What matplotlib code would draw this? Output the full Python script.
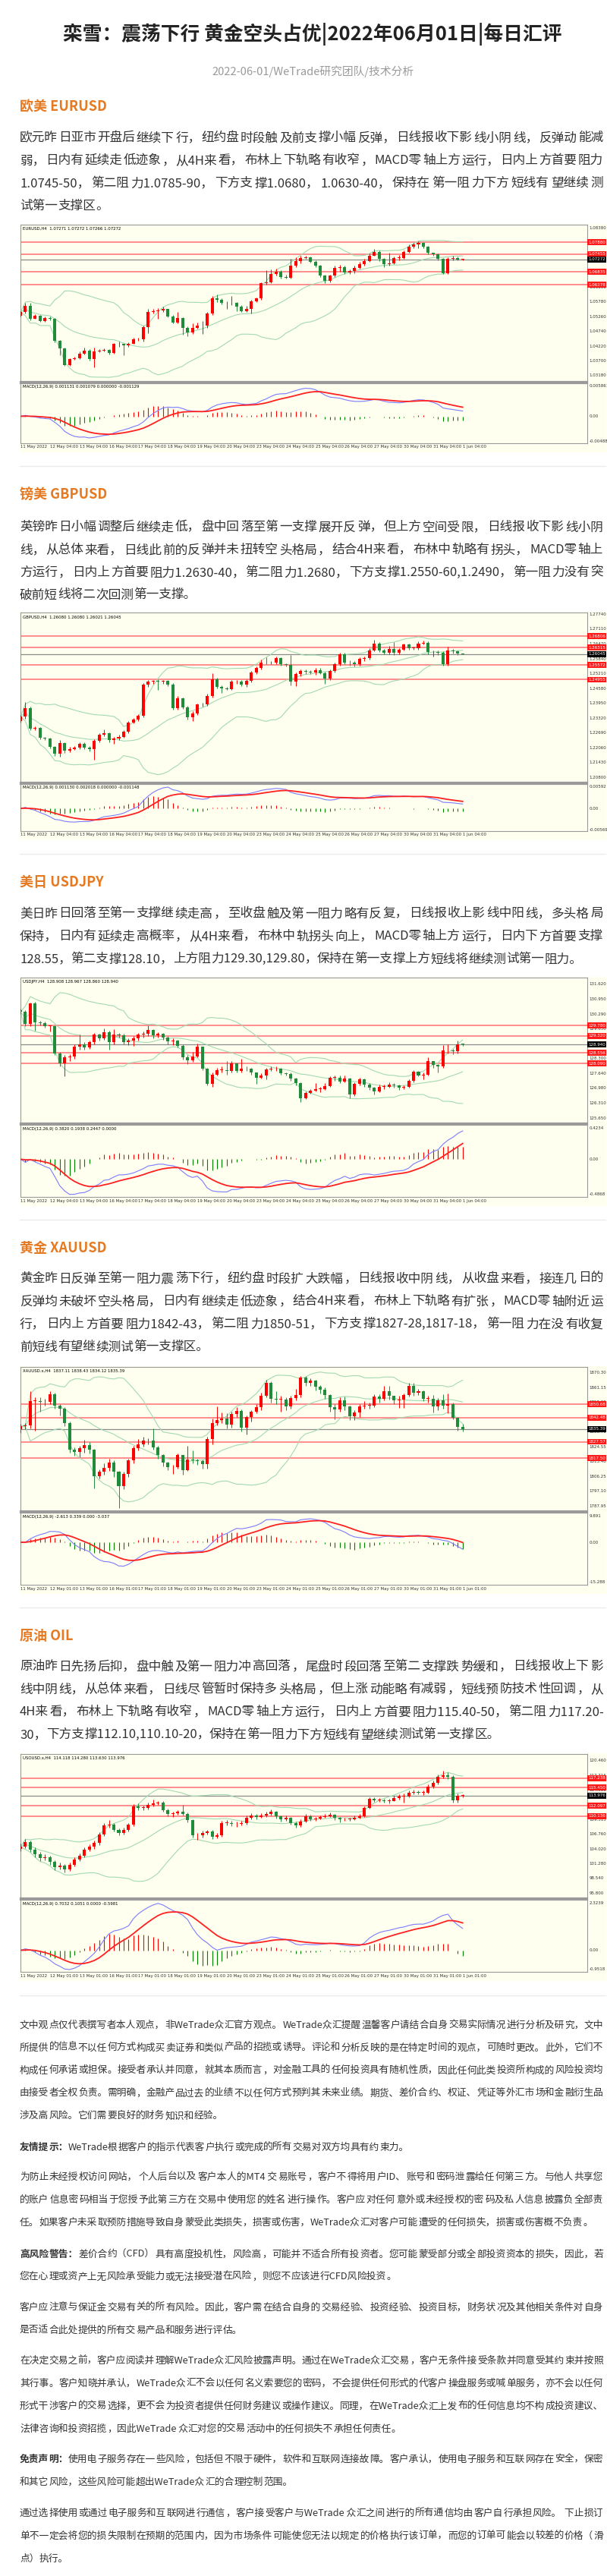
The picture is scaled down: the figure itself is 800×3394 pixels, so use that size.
import numpy as np
import pandas as pd
import matplotlib
matplotlib.use("Agg")
import matplotlib.pyplot as plt
from matplotlib import font_manager
from matplotlib.ft2font import FT2Font
from matplotlib.patches import Rectangle
from matplotlib.lines import Line2D

plt.rcParams['font.family'] = ['Noto Sans CJK SC', 'DejaVu Sans']

W, H = 800, 3394
TXT = '#333333'
ORANGE = '#E67A22'
IVORY = '#FFFFF0'
UP, DN = '#FF0000', '#1F8B3B'
BAND = '#A3D9B1'
LEVEL = '#FF8585'

# ---------------- text ----------------
title = "栾雪：震荡下行 黄金空头占优|2022年06月01日|每日汇评"
subtitle = "2022-06-01/WeTrade研究团队/技术分析"

eur_text = [
    "欧元昨日亚市开盘后继续下行，纽约盘时段触及前支撑小幅反弹，日线报收下影线小阴线，反弹动能减",
    "弱，日内有延续走低迹象，从4H来看，布林上下轨略有收窄，MACD零轴上方运行，日内上方首要阻力",
    "1.0745-50，第二阻力1.0785-90，下方支撑1.0680，1.0630-40，保持在第一阻力下方短线有望继续测",
    "试第一支撑区。",
]
gbp_text = [
    "英镑昨日小幅调整后继续走低，盘中回落至第一支撑展开反弹，但上方空间受限，日线报收下影线小阴",
    "线，从总体来看，日线此前的反弹并未扭转空头格局，结合4H来看，布林中轨略有拐头，MACD零轴上",
    "方运行，日内上方首要阻力1.2630-40，第二阻力1.2680，下方支撑1.2550-60,1.2490，第一阻力没有突",
    "破前短线将二次回测第一支撑。",
]
jpy_text = [
    "美日昨日回落至第一支撑继续走高，至收盘触及第一阻力略有反复，日线报收上影线中阳线，多头格局",
    "保持，日内有延续走高概率，从4H来看，布林中轨拐头向上，MACD零轴上方运行，日内下方首要支撑",
    "128.55，第二支撑128.10，上方阻力129.30,129.80，保持在第一支撑上方短线将继续测试第一阻力。",
]
xau_text = [
    "黄金昨日反弹至第一阻力震荡下行，纽约盘时段扩大跌幅，日线报收中阴线，从收盘来看，接连几日的",
    "反弹均未破坏空头格局，日内有继续走低迹象，结合4H来看，布林上下轨略有扩张，MACD零轴附近运",
    "行，日内上方首要阻力1842-43，第二阻力1850-51，下方支撑1827-28,1817-18，第一阻力在没有收复",
    "前短线有望继续测试第一支撑区。",
]
oil_text = [
    "原油昨日先扬后抑，盘中触及第一阻力冲高回落，尾盘时段回落至第二支撑跌势缓和，日线报收上下影",
    "线中阴线，从总体来看，日线尽管暂时保持多头格局，但上涨动能略有减弱，短线预防技术性回调，从",
    "4H来看，布林上下轨略有收窄，MACD零轴上方运行，日内上方首要阻力115.40-50，第二阻力117.20-",
    "30，下方支撑112.10,110.10-20，保持在第一阻力下方短线有望继续测试第一支撑区。",
]

disc_paras = [
    ("", ["文中观点仅代表撰写者本人观点，非WeTrade众汇官方观点。WeTrade众汇提醒温馨客户请结合自身交易实际情况进行分析及研究，文中",
          "所提供的信息不以任何方式构成买卖证券和类似产品的招揽或诱导。评论和分析反映的是在特定时间的观点，可随时更改。此外，它们不",
          "构成任何承诺或担保。接受者承认并同意，就其本质而言，对金融工具的任何投资具有随机性质，因此任何此类投资所构成的风险投资均",
          "由接受者全权负责。需明确，金融产品过去的业绩不以任何方式预判其未来业绩。期货、差价合约、权证、凭证等外汇市场和金融衍生品",
          "涉及高风险。它们需要良好的财务知识和经验。"]),
    ("友情提示：", ["WeTrade根据客户的指示代表客户执行或完成的所有交易对双方均具有约束力。"]),
    ("", ["为防止未经授权访问网站，个人后台以及客户本人的MT4 交易账号，客户不得将用户ID、账号和密码泄露给任何第三方。与他人共享您",
          "的账户信息密码相当于您授予此第三方在交易中使用您的姓名进行操作。客户应对任何意外或未经授权的密码及私人信息披露负全部责",
          "任。如果客户未采取预防措施导致自身蒙受此类损失，损害或伤害，WeTrade众汇对客户可能遭受的任何损失，损害或伤害概不负责。"]),
    ("高风险警告：", ["差价合约（CFD）具有高度投机性，风险高，可能并不适合所有投资者。您可能蒙受部分或全部投资资本的损失，因此，若",
                 "您在心理或资产上无风险承受能力或无法接受潜在风险，则您不应该进行CFD风险投资。"]),
    ("", ["客户应注意与保证金交易有关的所有风险。因此，客户需在结合自身的交易经验、投资经验、投资目标，财务状况及其他相关条件对自身",
          "是否适合此处提供的所有交易产品和服务进行评估。"]),
    ("", ["在决定交易之前，客户应阅读并理解WeTrade众汇风险披露声明。通过在WeTrade众汇交易，客户无条件接受条款并同意受其约束并按照",
          "其行事。客户知晓并承认，WeTrade众汇不会以任何名义索要您的密码，不会提供任何形式的代客户操盘服务或喊单服务，亦不会以任何",
          "形式干涉客户的交易选择，更不会为投资者提供任何财务建议或操作建议。同理，在WeTrade众汇上发布的任何信息均不构成投资建议、",
          "法律咨询和投资招揽，因此WeTrade 众汇对您的交易活动中的任何损失不承担任何责任。"]),
    ("免责声明：", ["使用电子服务存在一些风险，包括但不限于硬件，软件和互联网连接故障。客户承认，使用电子服务和互联网存在安全，保密",
               "和其它风险，这些风险可能超出WeTrade众汇的合理控制范围。"]),
    ("", ["通过选择使用或通过电子服务和互联网进行通信，客户接受客户与WeTrade 众汇之间进行的所有通信均由客户自行承担风险。 下止损订",
          "单不一定会将您的损失限制在预期的范围内，因为市场条件可能使您无法以规定的价格执行该订单，而您的订单可能会以较差的价格（滑",
          "点）执行。"]),
]
disc_y = [[2667, 2696.5, 2726.5, 2756.5, 2786.5], [2828], [2867, 2897, 2927], [2969, 2998.5],
          [3039, 3069], [3109, 3139, 3169, 3199], [3239, 3269], [3310, 3340, 3370]]

dates_04 = ["11 May 2022", "12 May 04:00", "13 May 04:00", "16 May 04:00", "17 May 04:00", "18 May 04:00",
            "19 May 04:00", "20 May 04:00", "23 May 04:00", "24 May 04:00", "25 May 04:00", "26 May 04:00",
            "27 May 04:00", "30 May 04:00", "31 May 04:00", "1 Jun 04:00"]
dates_01 = [d.replace("04:00", "01:00") for d in dates_04]

# ---------------- EURUSD H4 ----------------
eur_open0 = 1.0529
eur_close = [1.0541, 1.0565, 1.0518, 1.0529, 1.0511, 1.0520, 1.0518, 1.0440, 1.0413, 1.0356,
             1.0378, 1.0380, 1.0395, 1.0407, 1.0376, 1.0403, 1.0407, 1.0408, 1.0398, 1.0429,
             1.0431, 1.0424, 1.0431, 1.0445, 1.0445, 1.0489, 1.0541, 1.0545, 1.0548, 1.0552,
             1.0527, 1.0505, 1.0520, 1.0485, 1.0469, 1.0487, 1.0493, 1.0494, 1.0536, 1.0591,
             1.0584, 1.0574, 1.0574, 1.0574, 1.0561, 1.0545, 1.0554, 1.0581, 1.0590, 1.0645,
             1.0647, 1.0676, 1.0683, 1.0665, 1.0663, 1.0704, 1.0721, 1.0732, 1.0734, 1.0719,
             1.0704, 1.0670, 1.0652, 1.0670, 1.0698, 1.0701, 1.0680, 1.0686, 1.0696, 1.0710,
             1.0721, 1.0741, 1.0754, 1.0728, 1.0710, 1.0714, 1.0732, 1.0732, 1.0754, 1.0772,
             1.0781, 1.0785, 1.0772, 1.0750, 1.0745, 1.0728, 1.0679, 1.0728, 1.0732, 1.0727,
             1.0727]
eur_high = [1.0545, 1.0574, 1.0574, 1.0534, 1.0532, 1.0525, 1.0525, 1.0520, 1.0443, 1.0416,
            1.0380, 1.0385, 1.0403, 1.0418, 1.0412, 1.0416, 1.0412, 1.0413, 1.0412, 1.0434,
            1.0438, 1.0431, 1.0436, 1.0452, 1.0452, 1.0493, 1.0554, 1.0552, 1.0556, 1.0561,
            1.0554, 1.0532, 1.0543, 1.0523, 1.0492, 1.0501, 1.0505, 1.0510, 1.0541, 1.0599,
            1.0603, 1.0590, 1.0581, 1.0599, 1.0576, 1.0567, 1.0563, 1.0585, 1.0594, 1.0647,
            1.0688, 1.0692, 1.0695, 1.0688, 1.0674, 1.0728, 1.0734, 1.0739, 1.0741, 1.0736,
            1.0723, 1.0707, 1.0674, 1.0674, 1.0705, 1.0707, 1.0705, 1.0692, 1.0705, 1.0719,
            1.0728, 1.0748, 1.0763, 1.0759, 1.0732, 1.0750, 1.0736, 1.0743, 1.0760, 1.0781,
            1.0785, 1.0790, 1.0787, 1.0776, 1.0752, 1.0748, 1.0732, 1.0734, 1.0741, 1.0736,
            1.0728]
eur_low = [1.0527, 1.0538, 1.0514, 1.0517, 1.0508, 1.0508, 1.0514, 1.0436, 1.0389, 1.0354,
           1.0354, 1.0374, 1.0376, 1.0392, 1.0371, 1.0347, 1.0401, 1.0403, 1.0394, 1.0395,
           1.0420, 1.0389, 1.0420, 1.0429, 1.0440, 1.0438, 1.0467, 1.0536, 1.0518, 1.0543,
           1.0523, 1.0501, 1.0501, 1.0461, 1.0458, 1.0466, 1.0483, 1.0466, 1.0487, 1.0532,
           1.0576, 1.0570, 1.0554, 1.0567, 1.0545, 1.0541, 1.0541, 1.0536, 1.0576, 1.0585,
           1.0638, 1.0643, 1.0670, 1.0661, 1.0659, 1.0661, 1.0701, 1.0714, 1.0728, 1.0716,
           1.0701, 1.0665, 1.0643, 1.0647, 1.0665, 1.0683, 1.0677, 1.0677, 1.0679, 1.0695,
           1.0705, 1.0719, 1.0739, 1.0721, 1.0701, 1.0705, 1.0710, 1.0723, 1.0730, 1.0752,
           1.0766, 1.0768, 1.0768, 1.0745, 1.0739, 1.0725, 1.0677, 1.0677, 1.0723, 1.0725,
           1.0725]
eur_ticks = [1.03180, 1.03700, 1.04220, 1.04740, 1.05260, 1.05780, 1.06300, 1.06820, 1.07340, 1.07860, 1.08380]
eur_levels = [1.07880, 1.07455, 1.06835, 1.06378]

# ---------------- GBPUSD H4 ----------------
gbp_open0 = 1.2319
gbp_close = [1.2337, 1.2373, 1.2287, 1.2289, 1.2247, 1.2244, 1.2209, 1.2179, 1.2225, 1.2192,
             1.2201, 1.2206, 1.2222, 1.2206, 1.2201, 1.2235, 1.2260, 1.2267, 1.2238, 1.2244,
             1.2252, 1.2273, 1.2314, 1.2324, 1.2341, 1.2475, 1.2486, 1.2489, 1.2486, 1.2489,
             1.2475, 1.2373, 1.2416, 1.2378, 1.2335, 1.2351, 1.2389, 1.2389, 1.2427, 1.2497,
             1.2464, 1.2459, 1.2456, 1.2486, 1.2486, 1.2475, 1.2491, 1.2526, 1.2545, 1.2569,
             1.2567, 1.2567, 1.2586, 1.2561, 1.2559, 1.2486, 1.2518, 1.2532, 1.2529, 1.2526,
             1.2537, 1.2524, 1.2500, 1.2532, 1.2561, 1.2604, 1.2569, 1.2567, 1.2561, 1.2583,
             1.2586, 1.2621, 1.2650, 1.2621, 1.2610, 1.2626, 1.2610, 1.2623, 1.2644, 1.2629,
             1.2629, 1.2650, 1.2653, 1.2612, 1.2612, 1.2610, 1.2561, 1.2618, 1.2615, 1.2607,
             1.2605]
gbp_high = [1.2345, 1.2400, 1.2380, 1.2295, 1.2292, 1.2252, 1.2248, 1.2212, 1.2238, 1.2230,
            1.2208, 1.2212, 1.2230, 1.2228, 1.2212, 1.2240, 1.2268, 1.2285, 1.2272, 1.2250,
            1.2262, 1.2280, 1.2320, 1.2332, 1.2348, 1.2482, 1.2495, 1.2495, 1.2497, 1.2495,
            1.2495, 1.2480, 1.2425, 1.2420, 1.2383, 1.2360, 1.2395, 1.2396, 1.2435, 1.2524,
            1.2503, 1.2470, 1.2466, 1.2492, 1.2493, 1.2492, 1.2497, 1.2532, 1.2552, 1.2580,
            1.2590, 1.2575, 1.2593, 1.2592, 1.2566, 1.2599, 1.2525, 1.2540, 1.2540, 1.2535,
            1.2545, 1.2545, 1.2530, 1.2538, 1.2568, 1.2610, 1.2610, 1.2578, 1.2575, 1.2590,
            1.2595, 1.2628, 1.2666, 1.2656, 1.2627, 1.2640, 1.2655, 1.2630, 1.2650, 1.2650,
            1.2636, 1.2657, 1.2662, 1.2658, 1.2620, 1.2620, 1.2615, 1.2635, 1.2626, 1.2620,
            1.2608]
gbp_low = [1.2312, 1.2330, 1.2280, 1.2280, 1.2240, 1.2238, 1.2202, 1.2172, 1.2166, 1.2185,
           1.2186, 1.2196, 1.2200, 1.2200, 1.2190, 1.2155, 1.2230, 1.2255, 1.2230, 1.2222,
           1.2238, 1.2248, 1.2268, 1.2308, 1.2318, 1.2335, 1.2465, 1.2478, 1.2450, 1.2478,
           1.2468, 1.2366, 1.2366, 1.2372, 1.2326, 1.2318, 1.2345, 1.2382, 1.2383, 1.2420,
           1.2458, 1.2440, 1.2450, 1.2450, 1.2478, 1.2468, 1.2465, 1.2485, 1.2520, 1.2540,
           1.2560, 1.2560, 1.2560, 1.2555, 1.2552, 1.2472, 1.2468, 1.2510, 1.2520, 1.2518,
           1.2515, 1.2518, 1.2478, 1.2495, 1.2525, 1.2555, 1.2562, 1.2555, 1.2552, 1.2555,
           1.2575, 1.2580, 1.2615, 1.2614, 1.2603, 1.2605, 1.2600, 1.2604, 1.2618, 1.2622,
           1.2622, 1.2624, 1.2645, 1.2605, 1.2595, 1.2600, 1.2555, 1.2556, 1.2608, 1.2600,
           1.2602]
gbp_ticks = [1.20800, 1.21430, 1.22060, 1.22690, 1.23320, 1.23950, 1.24580, 1.25210, 1.25840, 1.26470, 1.27110, 1.27740]
gbp_levels = [1.26806, 1.26315, 1.25572, 1.24955]

# ---------------- USDJPY H4 ----------------
jpy_open0 = 130.45
jpy_close = [130.388, 129.856, 130.761, 129.935, 129.901, 129.766, 129.766, 128.545, 128.092, 128.352,
             128.409, 128.827, 128.952, 128.805, 129.031, 129.370, 129.200, 129.472, 129.031, 129.370,
             129.336, 129.031, 129.110, 129.200, 129.370, 129.427, 129.596, 129.336, 129.404, 129.257,
             129.065, 129.110, 128.884, 128.352, 128.239, 128.386, 128.827, 127.844, 127.188, 127.595,
             127.787, 127.787, 127.753, 128.092, 127.753, 127.866, 127.844, 127.674, 127.448, 127.561,
             127.821, 127.844, 127.844, 127.640, 127.617, 127.414, 127.222, 126.543, 126.769, 126.882,
             126.939, 126.939, 127.075, 127.448, 127.448, 127.278, 127.414, 126.690, 127.165, 127.369,
             127.142, 126.995, 126.826, 127.052, 127.052, 127.131, 127.108, 126.995, 127.052, 127.301,
             127.730, 127.561, 127.595, 128.183, 128.013, 127.957, 128.658, 128.658, 128.635, 128.952,
             128.940]
jpy_high = [130.55, 130.45, 130.82, 130.85, 130.00, 129.95, 129.80, 129.80, 128.60, 128.45,
            128.50, 128.95, 129.37, 129.05, 129.10, 129.45, 129.40, 129.65, 129.55, 129.62,
            129.45, 129.40, 129.20, 129.30, 129.45, 129.50, 129.79, 129.62, 129.48, 129.45,
            129.30, 129.20, 129.15, 128.95, 128.45, 128.60, 128.97, 128.85, 127.90, 127.70,
            127.90, 127.95, 128.21, 128.20, 128.10, 128.30, 127.95, 127.90, 127.70, 127.65,
            127.90, 127.95, 127.95, 127.90, 127.70, 127.68, 127.45, 127.25, 126.85, 126.95,
            127.22, 127.05, 127.20, 127.50, 127.55, 127.55, 127.56, 127.45, 127.25, 127.45,
            127.40, 127.20, 127.05, 127.15, 127.15, 127.25, 127.20, 127.15, 127.12, 127.38,
            127.80, 127.75, 127.70, 128.35, 128.20, 128.05, 128.92, 128.95, 128.75, 129.11,
            128.967]
jpy_low = [130.30, 129.77, 129.75, 129.55, 129.80, 129.70, 129.50, 128.45, 127.95, 127.53,
           128.20, 128.30, 128.70, 128.70, 128.75, 128.95, 129.10, 129.15, 128.69, 128.95,
           129.25, 128.95, 128.90, 128.86, 129.10, 129.25, 129.30, 129.20, 129.25, 129.15,
           128.95, 128.90, 128.80, 128.25, 128.07, 128.15, 128.35, 127.80, 127.10, 127.05,
           127.55, 127.70, 127.60, 127.70, 127.70, 127.70, 127.75, 127.60, 127.16, 127.40,
           127.37, 127.75, 127.75, 127.60, 127.55, 127.30, 127.10, 126.37, 126.50, 126.75,
           126.85, 126.80, 126.90, 127.05, 127.30, 127.20, 127.25, 126.54, 126.65, 127.10,
           127.05, 126.90, 126.70, 126.80, 126.95, 127.00, 127.00, 126.90, 126.95, 127.00,
           127.25, 127.50, 127.39, 127.55, 127.90, 127.67, 127.90, 128.55, 128.50, 128.55,
           128.86]
jpy_ticks = [125.650, 126.310, 126.980, 127.640, 128.300, 128.970, 129.630, 130.290, 130.950, 131.620]
jpy_levels = [129.780, 129.320, 128.556, 128.090]

# ---------------- XAUUSD H4 ----------------
xau_open0 = 1835.19
xau_close = [1837.06, 1837.69, 1852.70, 1852.70, 1852.08, 1852.08, 1856.77, 1850.04, 1848.17, 1839.10,
             1822.67, 1821.42, 1823.46, 1825.49, 1822.67, 1806.25, 1808.91, 1811.25, 1814.85, 1808.91,
             1799.99, 1807.81, 1815.95, 1823.46, 1825.80, 1828.15, 1828.15, 1823.92, 1819.23, 1814.54,
             1811.72, 1812.04, 1819.23, 1810.16, 1816.42, 1816.10, 1815.63, 1813.60, 1829.24, 1839.10,
             1841.13, 1841.76, 1838.00, 1844.88, 1846.60, 1836.44, 1842.69, 1846.13, 1848.95, 1855.83,
             1864.12, 1854.27, 1853.64, 1853.64, 1849.58, 1854.74, 1856.30, 1867.25, 1864.12, 1865.22,
             1861.46, 1859.90, 1856.30, 1848.95, 1847.70, 1853.17, 1849.26, 1843.32, 1845.67, 1849.58,
             1850.04, 1850.04, 1855.52, 1853.95, 1858.65, 1855.83, 1853.17, 1853.64, 1856.30, 1862.09,
             1857.87, 1858.96, 1854.27, 1854.27, 1849.26, 1853.17, 1850.04, 1850.83, 1842.22, 1836.75,
             1835.39]
xau_high = [1838.5, 1839.0, 1858.6, 1855.0, 1855.0, 1854.0, 1859.0, 1858.0, 1851.0, 1849.0,
            1840.0, 1824.0, 1825.0, 1828.6, 1827.5, 1823.0, 1810.5, 1814.0, 1817.0, 1816.0,
            1809.5, 1809.0, 1817.0, 1825.0, 1829.2, 1830.5, 1829.5, 1836.0, 1825.0, 1820.0,
            1815.0, 1813.5, 1820.5, 1819.5, 1825.0, 1822.0, 1817.0, 1816.5, 1830.5, 1842.0,
            1849.3, 1845.5, 1845.4, 1846.0, 1849.0, 1847.5, 1844.0, 1847.0, 1851.0, 1858.0,
            1866.0, 1865.0, 1858.6, 1856.0, 1855.0, 1856.0, 1860.0, 1868.3, 1868.0, 1867.0,
            1866.0, 1862.5, 1861.0, 1857.0, 1851.0, 1855.0, 1855.5, 1850.0, 1847.0, 1851.0,
            1852.5, 1852.0, 1857.0, 1857.0, 1862.1, 1862.0, 1856.0, 1856.0, 1857.5, 1864.1,
            1864.0, 1860.0, 1859.5, 1856.0, 1856.5, 1854.5, 1857.1, 1857.5, 1852.0, 1843.0,
            1838.43]
xau_low = [1833.0, 1835.5, 1836.0, 1834.4, 1846.0, 1850.0, 1851.0, 1848.0, 1843.8, 1837.0,
           1821.0, 1819.0, 1818.0, 1821.0, 1820.5, 1798.9, 1805.0, 1807.0, 1809.5, 1806.0,
           1786.7, 1798.4, 1806.0, 1814.0, 1822.0, 1824.5, 1826.0, 1822.5, 1817.0, 1812.5,
           1810.2, 1807.5, 1811.0, 1807.0, 1809.5, 1814.0, 1813.5, 1811.0, 1810.9, 1826.0,
           1837.5, 1839.0, 1836.0, 1836.5, 1843.0, 1834.0, 1832.0, 1840.0, 1845.0, 1847.0,
           1855.0, 1852.0, 1851.0, 1846.1, 1847.0, 1848.0, 1853.0, 1855.0, 1862.0, 1862.0,
           1859.5, 1857.5, 1854.0, 1846.0, 1841.4, 1846.0, 1847.0, 1841.0, 1841.0, 1843.0,
           1848.0, 1848.0, 1849.0, 1852.0, 1853.0, 1853.5, 1851.0, 1848.5, 1848.5, 1855.5,
           1856.0, 1856.5, 1852.5, 1852.0, 1845.8, 1847.0, 1848.0, 1845.0, 1841.4, 1834.4,
           1834.12]
xau_ticks = [1787.95, 1797.10, 1806.25, 1815.40, 1824.55, 1833.70, 1842.85, 1852.00, 1861.15, 1870.30]
xau_levels = [1850.68, 1842.48, 1827.57, 1817.50]

# ---------------- USOUSD H4 ----------------
oil_open0 = 104.0
oil_close = [104.40, 105.34, 103.93, 102.98, 102.27, 102.51, 101.56, 100.62, 100.85, 100.15,
             101.09, 102.04, 102.74, 103.93, 104.40, 105.11, 106.76, 108.41, 108.56, 107.61,
             106.99, 107.61, 108.56, 111.96, 111.72, 111.72, 112.19, 112.52, 112.66, 111.25,
             110.54, 110.63, 110.92, 110.54, 109.36, 106.52, 106.52, 106.99, 107.23, 106.29,
             106.52, 108.89, 108.89, 108.65, 108.74, 108.89, 109.83, 110.30, 109.97, 110.30,
             110.54, 110.92, 110.07, 109.50, 109.83, 108.89, 108.41, 109.12, 110.16, 109.50,
             109.69, 109.97, 110.16, 110.44, 109.83, 109.50, 109.59, 109.59, 109.83, 110.16,
             111.72, 113.37, 113.14, 113.14, 113.00, 113.00, 113.47, 113.85, 113.85, 114.55,
             114.70, 114.55, 114.55, 115.64, 116.30, 117.53, 117.72, 117.53, 113.14, 113.94,
             113.98]
oil_high = [105.0, 105.9, 105.6, 104.3, 103.4, 103.0, 102.8, 101.9, 101.4, 101.2,
            101.5, 102.5, 103.2, 104.3, 104.9, 105.6, 107.1, 108.8, 109.4, 108.9,
            107.9, 108.0, 108.9, 112.4, 112.5, 112.1, 112.6, 113.3, 113.0, 112.9,
            111.5, 111.0, 111.3, 112.3, 110.8, 109.6, 107.0, 107.4, 107.6, 107.5,
            107.0, 109.3, 109.4, 109.2, 109.1, 109.3, 110.2, 110.7, 110.5, 110.7,
            110.9, 111.4, 111.1, 110.3, 110.2, 110.0, 109.1, 109.5, 110.6, 110.4,
            110.0, 110.3, 110.5, 110.8, 110.6, 110.0, 109.9, 109.9, 110.2, 110.5,
            112.0, 113.7, 113.6, 113.5, 113.4, 113.4, 113.9, 114.2, 114.3, 114.9,
            115.1, 115.0, 114.9, 116.0, 116.8, 117.9, 118.6, 118.3, 117.8, 114.4,
            114.28]
oil_low = [103.6, 104.2, 103.5, 102.5, 101.8, 101.9, 101.1, 100.1, 100.2, 99.6,
           99.9, 100.8, 101.7, 102.5, 103.6, 104.0, 104.8, 106.5, 108.0, 107.3,
           106.6, 106.7, 107.3, 108.3, 111.2, 111.3, 111.4, 111.9, 112.2, 110.9,
           110.1, 110.0, 110.4, 110.2, 109.0, 106.1, 105.7, 106.2, 106.7, 105.8,
           106.0, 106.3, 108.4, 108.3, 108.2, 108.4, 108.6, 109.6, 109.6, 109.8,
           110.0, 110.3, 109.7, 109.1, 109.3, 108.5, 108.0, 108.2, 109.0, 109.2,
           109.3, 109.5, 109.8, 110.0, 109.4, 109.0, 109.2, 109.3, 109.4, 109.7,
           110.0, 111.5, 112.8, 112.8, 112.6, 112.5, 112.9, 113.3, 112.6, 113.6,
           114.2, 114.2, 114.1, 114.4, 115.4, 116.1, 117.2, 117.0, 112.7, 112.6,
           113.63]
oil_ticks = [95.800, 98.540, 101.280, 104.020, 106.760, 109.515, 112.240, 114.980, 117.716, 120.460]
oil_levels = [117.238, 115.450, 112.097, 110.136]

charts = [
    dict(top=296, main_h=207, macd_h=79, o0=eur_open0, c=eur_close, h=eur_high, l=eur_low,
         ylim=(1.02966, 1.08495), ticks=eur_ticks, fmt='{:.5f}', levels=eur_levels, cur=1.07272,
         head="EURUSD,H4  1.07271 1.07272 1.07266 1.07272",
         mhead="MACD(12,26,9) 0.001131 0.001079 0.000000 -0.001129",
         mlim=(0.005861, -0.004883), mlbl=("0.005861", "-0.004883"), dates=dates_04),
    dict(top=807, main_h=224, macd_h=62, o0=gbp_open0, c=gbp_close, h=gbp_high, l=gbp_low,
         ylim=(1.20574, 1.27811), ticks=gbp_ticks, fmt='{:.5f}', levels=gbp_levels, cur=1.26045,
         head="GBPUSD,H4  1.26080 1.26080 1.26021 1.26045",
         mhead="MACD(12,26,9) 0.001130 0.002018 0.000000 -0.001148",
         mlim=(0.00592, -0.005695), mlbl=("0.00592", "-0.005695"), dates=dates_04),
    dict(top=1288, main_h=192, macd_h=95, o0=jpy_open0, c=jpy_close, h=jpy_high, l=jpy_low,
         ylim=(125.413, 131.925), ticks=jpy_ticks, fmt='{:.3f}', levels=jpy_levels, cur=128.940,
         head="USDJPY,H4  128.908 128.967 128.860 128.940",
         mhead="MACD(12,26,9) 0.3820 0.1938 0.2447 0.0000",
         mlim=(0.4234, -0.4868), mlbl=("0.4234", "-0.4868"), dates=dates_04),
    dict(top=1801, main_h=190, macd_h=95, o0=xau_open0, c=xau_close, h=xau_high, l=xau_low,
         ylim=(1784.67, 1873.82), ticks=xau_ticks, fmt='{:.2f}', levels=xau_levels, cur=1835.39,
         head="XAUUSD.x,H4  1837.11 1838.43 1834.12 1835.39",
         mhead="MACD(12,26,9) -2.613 0.339 0.000 -3.037",
         mlim=(9.891, -15.288), mlbl=("9.891", "-15.288"), dates=dates_01),
    dict(top=2311, main_h=190, macd_h=95, o0=oil_open0, c=oil_close, h=oil_high, l=oil_low,
         ylim=(94.81, 121.735), ticks=oil_ticks, fmt='{:.3f}', levels=oil_levels, cur=113.976,
         head="USOUSD.x,H4  114.118 114.280 113.630 113.976",
         mhead="MACD(12,26,9) 0.7032 0.1051 0.0000 -0.5981",
         mlim=None, mlbl=None, dates=dates_01),
]

sections = [
    ("欧美 EURUSD", 139, eur_text, [180, 209.5, 239.5, 269.5]),
    ("镑美 GBPUSD", 650, gbp_text, [693, 723, 752.5, 782]),
    ("美日 USDJPY", 1161, jpy_text, [1202, 1232, 1262]),
    ("黄金 XAUUSD", 1643, xau_text, [1683, 1713, 1743, 1773]),
    ("原油 OIL", 2154, oil_text, [2194, 2224, 2254, 2284]),
]
separators = [614, 1125, 1607, 2118, 2629]

fig = plt.figure(figsize=(W / 100, H / 100), dpi=100)
fig.patch.set_facecolor('white')

# font metrics for justified lines
reg_path = font_manager.findfont(font_manager.FontProperties(family='Noto Sans CJK SC'))
bold_path = font_manager.findfont(font_manager.FontProperties(family='Noto Sans CJK SC', weight='bold'))
_ft = {}
PUNCT = '，。、；：）'


def adv_width(s, size, bold=False):
    path = bold_path if bold else reg_path
    if path not in _ft:
        _ft[path] = FT2Font(path)
    f = _ft[path]
    f.set_size(size, 100)
    return sum(f.load_char(ord(ch)).linearHoriAdvance for ch in s) / 65536


def is_cjk(ch):
    return ord(ch) > 0x2E80


def put(x, yc, s, size, color=TXT, bold=False, ha='left'):
    em = size * 100 / 72
    fig.text(x / W, 1 - (yc + 0.38 * em) / H, s, fontsize=size, color=color,
             fontweight='bold' if bold else 'normal', ha=ha, va='baseline')


def put_line(segs, yc, size, justify, x0=26.0, x1=795.0, color=TXT):
    # split into short pieces so the justification slack is spread evenly
    chunks = []
    for s, b in segs:
        buf = ''
        for i, ch in enumerate(s):
            buf += ch
            nxt = s[i + 1] if i + 1 < len(s) else ''
            if ch in PUNCT or (len(buf) >= 3 and is_cjk(ch) and (nxt == '' or is_cjk(nxt))):
                chunks.append((buf, b))
                buf = ''
        if buf:
            chunks.append((buf, b))
    ws = [adv_width(t, size, b) for t, b in chunks]
    total = sum(ws)
    if total > x1 - x0:
        return put_line(segs, yc, size * (x1 - x0) / total * 0.998, justify, x0, x1, color)
    gap = (x1 - x0 - total) / (len(chunks) - 1) if (justify and len(chunks) > 1) else 0
    x = x0
    for (t, b), w in zip(chunks, ws):
        put(x, yc, t, size, color, b)
        x += w + gap


def draw_chart(c):
    top, mh, dh = c['top'], c['main_h'], c['macd_h']
    xl, xr = 27.0, 773.6
    bot = top + mh + 2 + dh
    fig.add_artist(Rectangle((26 / W, 1 - (bot + 12) / H), 773 / W, (bot + 12 - top + 1) / H,
                             transform=fig.transFigure, fc=IVORY, ec='none', zorder=-5))
    ax = fig.add_axes([xl / W, 1 - (top + mh) / H, (xr - xl) / W, mh / H], facecolor=IVORY)
    ax2 = fig.add_axes([xl / W, 1 - bot / H, (xr - xl) / W, dh / H], facecolor=IVORY)

    close = np.array(c['c'], dtype=float)
    open_ = np.r_[c['o0'], close[:-1]]
    high = np.maximum(np.array(c['h'], dtype=float), np.maximum(open_, close))
    low = np.minimum(np.array(c['l'], dtype=float), np.minimum(open_, close))
    x = np.arange(len(close))
    lo_p, hi_p = c['ylim']

    s = pd.Series(close)
    mid = s.rolling(20, min_periods=1).mean()
    sd = s.rolling(20, min_periods=1).std(ddof=0)
    for band in (mid + 2 * sd, mid, mid - 2 * sd):
        ax.plot(x, band, color=BAND, lw=0.8, zorder=2)
    for v in c['levels']:
        ax.axhline(v, color=LEVEL, lw=1.3, zorder=1)
    ax.axhline(c['cur'], color='#8A8A8A', lw=0.9, zorder=1)

    cols = np.where(close >= open_, UP, DN)
    ax.vlines(x, low, high, colors=cols, lw=0.7, zorder=3)
    body = np.maximum(np.abs(close - open_), (hi_p - lo_p) * 0.003)
    ax.bar(x, body, bottom=np.minimum(open_, close), width=0.62, color=cols, lw=0, zorder=4)
    ax.set_xlim(0, 115.3)
    ax.set_ylim(lo_p, hi_p)

    tr = ax.get_yaxis_transform()
    for v in c['ticks']:
        if lo_p < v < hi_p:
            ax.text(1.004, v, c['fmt'].format(v), transform=tr, fontsize=4.0, va='center',
                    ha='left', color='#333333', family='DejaVu Sans', clip_on=False)
    for v in c['levels']:
        ax.text(1.002, v, c['fmt'].format(v), transform=tr, fontsize=4.0, va='center', ha='left',
                color='white', family='DejaVu Sans', clip_on=False, zorder=6,
                bbox=dict(boxstyle='square,pad=0.25', fc='#FF1A1A', ec='none'))
    ax.text(1.002, c['cur'], c['fmt'].format(c['cur']), transform=tr, fontsize=4.0, va='center',
            ha='left', color='white', family='DejaVu Sans', clip_on=False, zorder=6,
            bbox=dict(boxstyle='square,pad=0.25', fc='black', ec='none'))
    ax.text(0.004, 0.985, c['head'], transform=ax.transAxes, fontsize=3.9, va='top', ha='left',
            family='DejaVu Sans', color='black')

    # MACD
    ema12 = s.ewm(span=12, adjust=False).mean()
    ema26 = s.ewm(span=26, adjust=False).mean()
    dif = ema12 - ema26
    dea = dif.ewm(span=9, adjust=False).mean()
    hist = dif - dea
    ax2.vlines(x, 0, hist, colors=np.where(hist >= 0, UP, '#008000'), lw=0.8, zorder=2)
    ax2.plot(x, dif, color='#7B7BFF', lw=0.8, zorder=3)
    ax2.plot(x, dea, color='#FF2020', lw=1.3, zorder=3)
    if c['mlim'] is None:
        mhi, mlo = float(max(dif.max(), dea.max(), hist.max())), float(min(dif.min(), dea.min(), hist.min()))
        mlbl = ('{:.4f}'.format(mhi), '{:.4f}'.format(mlo))
    else:
        mhi, mlo = c['mlim']
        mlbl = c['mlbl']
    r = mhi - mlo
    ax2.set_xlim(0, 115.3)
    ax2.set_ylim(mlo - 0.035 * r, mhi + 0.055 * r)
    tr2 = ax2.get_yaxis_transform()
    for v, lbl in ((mhi, mlbl[0]), (0.0, '0.00'), (mlo, mlbl[1])):
        ax2.text(1.004, v, lbl, transform=tr2, fontsize=4.0, va='center', ha='left',
                 color='#333333', family='DejaVu Sans', clip_on=False)
    ax2.text(0.004, 0.97, c['mhead'], transform=ax2.transAxes, fontsize=3.9, va='top', ha='left',
             family='DejaVu Sans', color='black')
    trx = ax2.get_xaxis_transform()
    for i, lbl in zip(range(0, 6 * len(c['dates']), 6), c['dates']):
        ax2.text(i, -0.03, lbl, transform=trx, fontsize=3.9, va='top', ha='left',
                 color='#333333', family='DejaVu Sans', clip_on=False)

    for a in (ax, ax2):
        a.set_xticks([])
        a.set_yticks([])
        for sp in a.spines.values():
            sp.set_color('#9A9A9A')
            sp.set_linewidth(0.8)
    ax.spines['bottom'].set_linewidth(1.6)
    ax2.spines['top'].set_linewidth(1.6)


# header
put(412, 43, title, 18.5, '#222222', True, 'center')
put(412, 93, subtitle, 10.6, '#9A9A9A', False, 'center')

for (head, hy, lines, ys), chart in zip(sections, charts):
    put(26, hy, head, 13, ORANGE, True)
    for k, (ln, y) in enumerate(zip(lines, ys)):
        put_line([(ln, False)], y, 12.0, k < len(lines) - 1)
    draw_chart(chart)

for y in separators:
    fig.add_artist(Line2D([26 / W, 798 / W], [1 - y / H, 1 - y / H], color='#EBEBEB', lw=1.0))

for (bold, lines), ys in zip(disc_paras, disc_y):
    for k, (ln, y) in enumerate(zip(lines, ys)):
        segs = [(bold, True), (ln, False)] if (k == 0 and bold) else [(ln, False)]
        put_line(segs, y, 9.2, k < len(lines) - 1)

fig.savefig('out.png', dpi=100)
